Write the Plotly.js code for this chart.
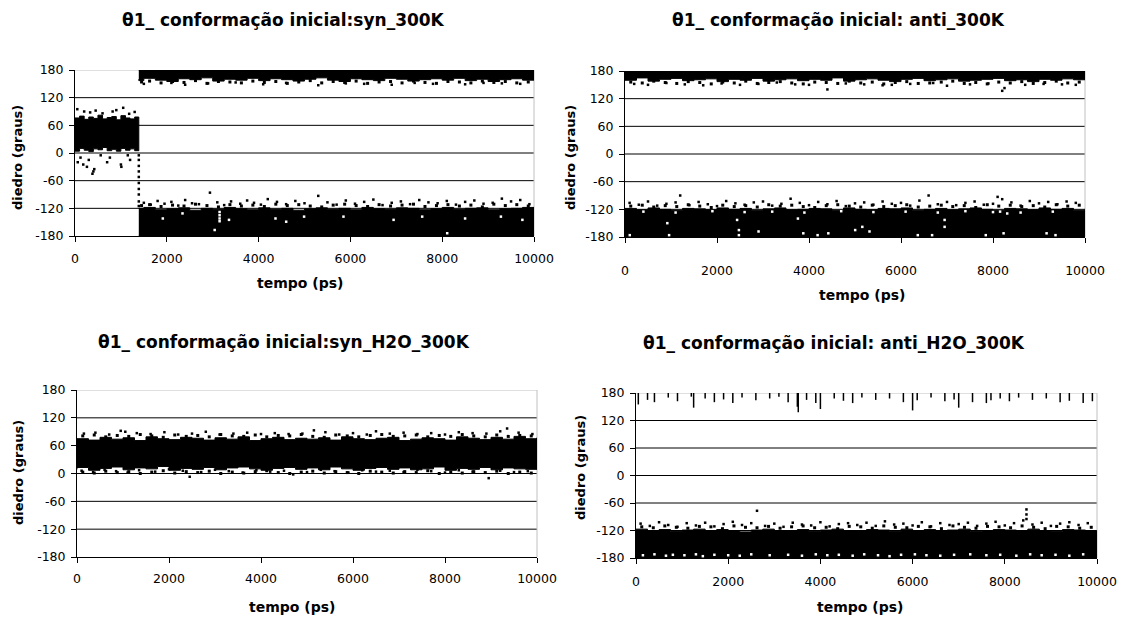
<!DOCTYPE html>
<html>
<head>
<meta charset="utf-8">
<script src="https://cdn.plot.ly/plotly-3.0.1.min.js"></script>
<style>html,body{margin:0;padding:0;background:#fff;}#chart{width:1123px;height:618px;}</style>
</head>
<body>
<div id="chart"></div>
<script>
// ---------------- data ----------------
const titles = [
  "θ1_ conformação inicial:syn_300K",
  "θ1_ conformação inicial: anti_300K",
  "θ1_ conformação inicial:syn_H2O_300K",
  "θ1_ conformação inicial: anti_H2O_300K"
];
const xTitle = "tempo (ps)";
const yTitle = "diedro (graus)";
const xTicks = [0, 2000, 4000, 6000, 8000, 10000];
const yTicks = [-180, -120, -60, 0, 60, 120, 180];
const Y_MIN = -180, Y_MAX = 180;

// shared sample times for fringe points (ps)
const fT = [125,375,625,875,1125,1375,1625,1875,2125,2375,2625,2875,3125,3375,3625,3875,4125,4375,4625,4875,5125,5375,5625,5875,6125,6375,6625,6875,7125,7375,7625,7875,8125,8375,8625,8875,9125,9375,9625,9875];

// Panel 1 : syn_300K
const p1EarlyT  = [0,100,200,300,400,500,600,700,800,900,1000,1100,1200,1300,1390];
const p1EarlyHi = [76,80,73,78,75,82,74,77,79,72,81,76,74,78,73];
const p1EarlyLo = [8,4,10,6,3,9,7,12,5,8,4,10,6,9,5];
const p1EarlyOutT = [50,60,120,180,200,260,300,330,380,400,420,450,560,600,700,760,820,900,1000,1010,1050,1150,1180,1200,1300];
const p1EarlyOutV = [95,-20,-10,-25,90,-30,-15,88,-45,-40,-35,92,-5,86,-20,-10,90,93,-25,-30,98,-5,85,-15,89];
const p1JumpT = [1390,1390,1390,1390,1390,1390,1390,1390,1390,1390];
const p1JumpV = [-5,-15,-28,-40,-52,-65,-78,-90,-105,-115];
const p1LateT = [1390,1500,1750,2000,2250,2500,2750,3000,3250,3500,3750,4000,4250,4500,4750,5000,5250,5500,5750,6000,6250,6500,6750,7000,7250,7500,7750,8000,8250,8500,8750,9000,9250,9500,9750,10000];
const p1UpLo  = [160,157,162,158,155,161,159,163,156,160,158,162,157,161,159,156,160,163,158,155,161,159,157,162,160,156,159,161,158,162,157,160,155,159,161,158];
const p1DnHi  = [-120,-118,-123,-121,-119,-124,-120,-122,-118,-121,-123,-119,-122,-120,-124,-121,-119,-122,-120,-123,-118,-121,-122,-119,-120,-123,-121,-118,-122,-120,-119,-123,-121,-120,-118,-122];
const p1FrT = [1450,1625,1875,2125,2375,2625,2875,3125,3375,3625,3875,4125,4375,4625,4875,5125,5375,5625,5875,6125,6375,6625,6875,7125,7375,7625,7875,8125,8375,8625,8875,9125,9375,9625,9875];
const p1UpFrV = [154,156,152,155,153,157,151,155,154,152,156,153,155,151,154,157,152,155,153,156,151,154,155,152,156,153,151,155,154,152,156,153,155,152,154];
const p1DnFrV = [-114,-112,-116,-113,-115,-111,-114,-117,-112,-115,-113,-116,-111,-114,-112,-115,-117,-113,-111,-114,-116,-112,-115,-113,-111,-116,-114,-112,-115,-113,-117,-111,-114,-112,-115];
const p1UpOutT = [1500,2100,2400,2900,3500,4100,4600,5300,5900,6300,6900,7400,7800,8500,8900,9300,9700];
const p1UpOutV = [150,152,148,151,153,149,152,147,151,150,148,152,150,149,152,151,150];
const p1DnOutT = [1500,1650,1800,1950,2100,2250,2400,2550,2700,2940,3100,3250,3400,3600,3750,3900,4050,4200,4400,4600,4800,5000,5300,5500,5700,5900,6100,6300,6500,6700,6900,7100,7300,7500,7700,7900,8100,8300,8500,8700,8900,9100,9300,9500,9700,9900];
const p1DnOutV = [-108,-112,-104,-110,-106,-114,-102,-109,-111,-86,-107,-113,-105,-110,-103,-108,-112,-100,-106,-111,-104,-109,-93,-107,-112,-103,-110,-106,-101,-113,-108,-105,-111,-102,-107,-109,-104,-112,-106,-103,-110,-108,-99,-105,-102,-111];
// gaps (white specks) inside the lower band
const p1GapT = [1913,2342,3043,3150,3150,3150,3150,3355,4368,4601,4991,5849,6941,7564,8109,8499,9279,9747];
const p1GapV = [-142,-131,-167,-128,-135,-142,-148,-145,-142,-149,-138,-138,-145,-138,-174,-142,-138,-145];

// Panel 2 : anti_300K
const p2T = [0,250,500,750,1000,1250,1500,1750,2000,2250,2500,2750,3000,3250,3500,3750,4000,4250,4500,4750,5000,5250,5500,5750,6000,6250,6500,6750,7000,7250,7500,7750,8000,8250,8500,8750,9000,9250,9500,9750,10000];
const p2UpLo = [163,160,165,158,162,164,159,161,163,157,162,160,164,158,161,163,159,162,160,165,158,161,163,160,157,162,164,159,161,163,158,160,162,164,159,161,157,162,160,163,161];
const p2DnHi = [-118,-121,-117,-120,-122,-118,-119,-121,-117,-120,-118,-122,-119,-117,-121,-120,-118,-119,-122,-117,-120,-121,-118,-119,-117,-122,-120,-118,-121,-119,-117,-120,-122,-118,-119,-121,-117,-120,-118,-122,-119];
const p2UpFrV = [156,154,158,155,153,157,155,152,156,154,158,153,155,157,154,152,156,155,153,158,154,156,152,155,157,153,154,156,158,153,155,152,156,154,157,153,155,158,154,156];
const p2DnFrV = [-113,-111,-115,-112,-114,-110,-113,-116,-111,-114,-112,-115,-110,-113,-111,-114,-116,-112,-110,-113,-115,-111,-114,-112,-110,-115,-113,-111,-114,-112,-116,-110,-113,-111,-114,-112,-115,-110,-113,-111];
const p2UpOutT = [200,500,900,1300,1700,2100,2500,2900,3300,3700,4000,4400,4800,5200,5600,5800,6200,6700,7000,7500,7900,8200,8250,8700,9100,9500,9800];
const p2UpOutV = [152,150,154,151,149,153,150,152,155,151,150,140,153,151,149,150,152,154,148,151,153,137,143,150,152,151,150];
const p2DnOutT = [100,300,500,700,900,1100,1200,1400,1600,1800,2000,2200,2400,2600,2800,3000,3200,3400,3600,3800,4000,4200,4400,4600,4800,5000,5200,5400,5600,5800,6000,6200,6400,6600,6800,7000,7200,7400,7600,7800,8000,8100,8200,8400,8600,8800,9000,9200,9400,9600,9800];
const p2DnOutV = [-106,-110,-103,-112,-108,-105,-90,-111,-104,-109,-113,-102,-107,-110,-105,-103,-112,-108,-97,-106,-111,-104,-109,-102,-113,-107,-105,-110,-103,-108,-106,-112,-101,-90,-109,-104,-111,-106,-103,-110,-108,-93,-98,-105,-112,-102,-107,-104,-109,-103,-106];
const p2GapT = [104,400,920,959,1100,1900,2437,2476,2476,2600,2903,3200,3759,3876,3900,4187,4420,4700,5004,5159,5315,5400,6100,6365,6676,6800,6948,6948,7400,7843,8000,8154,8230,8309,8600,9165,9300,9359];
const p2GapV = [-176,-125,-150,-176,-127,-124,-143,-165,-176,-126,-168,-125,-140,-172,-127,-176,-172,-124,-165,-158,-168,-126,-125,-176,-176,-127,-143,-158,-124,-176,-126,-125,-172,-129,-127,-172,-125,-176];

// Panel 3 : syn_H2O_300K
const p3T = [0,250,500,750,1000,1250,1500,1750,2000,2250,2500,2750,3000,3250,3500,3750,4000,4250,4500,4750,5000,5250,5500,5750,6000,6250,6500,6750,7000,7250,7500,7750,8000,8250,8500,8750,9000,9250,9500,9750,10000];
const p3Hi = [75,72,78,74,77,71,79,75,73,78,76,72,77,74,79,71,75,78,73,76,74,77,72,79,75,73,76,78,71,74,77,75,72,79,76,73,78,74,80,75,77];
const p3Lo = [9,13,7,11,14,8,12,10,15,7,11,9,13,8,12,14,10,7,11,13,9,12,8,14,10,7,11,13,9,12,8,10,14,7,11,9,13,8,12,10,9];
const p3UpFrV = [81,83,79,82,80,84,81,78,83,80,82,79,84,81,80,83,79,82,81,84,80,78,83,81,79,82,84,80,81,83,79,82,80,84,81,79,83,80,82,81];
const p3DnFrV = [3,1,5,2,4,0,3,6,1,4,2,5,0,3,1,4,6,2,0,3,5,1,4,2,0,5,3,1,4,2,6,0,3,1,4,2,5,0,3,1];
const p3UpOutT = [150,400,700,950,1050,1300,1600,1900,2200,2500,2800,3100,3400,3700,4000,4300,4600,4900,5150,5400,5700,6000,6300,6500,6800,7100,7400,7700,8000,8300,8600,8900,9200,9350,9600,9900];
const p3UpOutV = [86,88,84,92,90,87,85,89,84,86,90,84,86,88,85,87,85,86,93,89,84,87,84,91,86,88,85,87,84,89,87,86,91,97,88,85];
const p3DnOutT = [100,350,600,850,1100,1350,1700,2000,2300,2450,2700,3000,3300,3600,3900,4200,4500,4700,5000,5300,5600,5900,6200,6500,6800,7100,7400,7700,8000,8300,8600,8950,9200,9500,9800];
const p3DnOutV = [6,3,8,5,2,7,4,9,6,-7,3,8,5,2,7,4,6,-2,3,8,5,2,7,4,6,3,8,5,2,7,4,-10,6,3,5];

// Panel 4 : anti_H2O_300K
const p4T = [0,250,500,750,1000,1250,1500,1750,2000,2250,2500,2750,3000,3250,3500,3750,4000,4250,4500,4750,5000,5250,5500,5750,6000,6250,6500,6750,7000,7250,7500,7750,8000,8250,8500,8750,9000,9250,9500,9750,10000];
const p4SpikeT = [50,250,400,700,900,1200,1250,1500,1700,1900,2100,2300,2600,2900,3100,3300,3500,3520,3700,3900,4000,4300,4500,4700,4900,5200,5500,5800,6000,6100,6400,6700,6900,7000,7300,7600,7700,7900,8100,8300,8600,8900,9200,9400,9700,9900];
const p4SpikeLo = [155,165,160,170,162,172,148,168,160,166,158,170,164,168,172,160,150,138,165,158,145,168,163,158,170,165,168,160,142,164,170,162,166,148,160,158,164,168,162,170,165,168,160,163,158,162];
const p4DnHi = [-117,-120,-118,-122,-119,-117,-121,-118,-120,-123,-119,-117,-121,-120,-118,-122,-119,-117,-120,-121,-118,-119,-122,-117,-120,-118,-121,-119,-117,-122,-120,-118,-119,-121,-117,-120,-122,-118,-119,-121,-120];
const p4DnFrV = [-112,-114,-110,-113,-115,-111,-112,-116,-110,-113,-114,-111,-115,-112,-110,-114,-113,-116,-111,-112,-115,-110,-113,-114,-111,-112,-116,-110,-113,-115,-111,-112,-114,-110,-113,-116,-111,-112,-115,-113];
const p4DnOutT = [100,300,500,700,900,1100,1300,1500,1700,1900,2100,2300,2500,2625,2800,3000,3200,3400,3600,3800,4000,4200,4400,4600,4800,5000,5200,5400,5600,5800,6000,6200,6400,6600,6800,7000,7200,7400,7600,7800,8000,8200,8400,8470,8470,8470,8600,8800,9000,9200,9400,9600,9800];
const p4DnOutV = [-105,-110,-102,-108,-112,-104,-109,-103,-111,-106,-101,-108,-104,-77,-110,-105,-112,-103,-107,-109,-102,-111,-106,-104,-108,-103,-110,-100,-107,-105,-109,-102,-111,-104,-108,-106,-103,-110,-105,-101,-109,-104,-98,-74,-85,-95,-107,-103,-110,-105,-102,-108,-104];
const p4GapT = [150,400,650,800,1050,1300,1450,1700,2000,2250,2500,2900,3300,3600,3900,4150,4400,4700,4950,5250,5500,5750,6050,6300,6600,6900,7250,7600,7900,8250,8550,8800,9100,9400,9700];
const p4GapV = [-174,-172,-175,-173,-174,-172,-176,-173,-174,-175,-172,-174,-173,-175,-172,-174,-173,-175,-172,-174,-176,-173,-172,-174,-175,-173,-172,-174,-173,-175,-172,-174,-173,-175,-172];

// ---------------- drawing ----------------
const FONT = "DejaVu Sans, Arial, sans-serif";
const traces = [];
function poly(ax, t, lo, hi) {
  traces.push({
    type: "scatter", mode: "lines", xaxis: "x" + ax, yaxis: "y" + ax,
    x: t.concat(t.slice().reverse()), y: hi.concat(lo.slice().reverse()),
    fill: "toself", fillcolor: "#000", line: {color: "#000", width: 1, shape: "hv"},
    hoverinfo: "skip", showlegend: false
  });
}
function dots(ax, t, v, color, size) {
  traces.push({
    type: "scatter", mode: "markers", xaxis: "x" + ax, yaxis: "y" + ax,
    x: t, y: v, marker: {symbol: "square", size: size || 2.5, color: color || "#000"},
    hoverinfo: "skip", showlegend: false
  });
}
const atTop = t => t.map(() => Y_MAX);
const atBottom = t => t.map(() => Y_MIN);

// panel 1
poly(1, p1EarlyT, p1EarlyLo, p1EarlyHi);
dots(1, p1EarlyOutT, p1EarlyOutV);
dots(1, p1JumpT, p1JumpV);
poly(1, p1LateT, p1UpLo, atTop(p1LateT));
poly(1, p1LateT, atBottom(p1LateT), p1DnHi);
dots(1, p1GapT, p1GapV, "#fff", 2.5);
dots(1, p1FrT, p1UpFrV, "#000", 3);
dots(1, p1FrT, p1DnFrV, "#000", 3);
dots(1, p1UpOutT, p1UpOutV);
dots(1, p1DnOutT, p1DnOutV);
// panel 2
poly(2, p2T, p2UpLo, atTop(p2T));
poly(2, p2T, atBottom(p2T), p2DnHi);
dots(2, p2GapT, p2GapV, "#fff", 2.5);
dots(2, fT, p2UpFrV, "#000", 3);
dots(2, fT, p2DnFrV, "#000", 3);
dots(2, p2UpOutT, p2UpOutV);
dots(2, p2DnOutT, p2DnOutV);
// panel 3
poly(3, p3T, p3Lo, p3Hi);
dots(3, fT, p3UpFrV, "#000", 3);
dots(3, fT, p3DnFrV, "#000", 3);
dots(3, p3UpOutT, p3UpOutV);
dots(3, p3DnOutT, p3DnOutV);
// panel 4
(function () {
  const sx = [], sy = [];
  p4SpikeT.forEach((t, i) => { sx.push(t, t, null); sy.push(Y_MAX, p4SpikeLo[i], null); });
  traces.push({type: "scatter", mode: "lines", xaxis: "x4", yaxis: "y4", x: sx, y: sy,
    line: {color: "#000", width: 1.5}, hoverinfo: "skip", showlegend: false});
})();
poly(4, p4T, atBottom(p4T), p4DnHi);
dots(4, fT, p4DnFrV, "#000", 3);
dots(4, p4DnOutT, p4DnOutV);
dots(4, p4GapT, p4GapV, "#fff");

// layout
const W = 1123, H = 618;
const boxes = [ // plot-area pixel boxes [x0,x1,yTop,yBottom]
  [75, 534, 70, 236],
  [625, 1085, 71, 237],
  [77, 537, 390, 557],
  [636, 1097, 393, 558]
];
const xStand = [6, 17, 5, 7];
const layout = {
  width: W, height: H, margin: {l: 0, r: 0, t: 0, b: 0},
  paper_bgcolor: "#fff", plot_bgcolor: "#fff", showlegend: false,
  font: {family: FONT, color: "#000"},
  annotations: [], shapes: []
};
boxes.forEach((b, i) => {
  const n = i + 1;
  layout["xaxis" + n] = {
    domain: [b[0] / W, b[1] / W], anchor: "y" + n, range: [0, 10000],
    tickmode: "array", tickvals: xTicks, ticktext: xTicks.map(String),
    showline: true, linecolor: "#000", linewidth: 1, ticks: "outside", ticklen: 5, tickcolor: "#000",
    showgrid: false, zeroline: false, tickfont: {family: FONT, size: 12.5, color: "#000"},
    ticklabelstandoff: xStand[i], fixedrange: true
  };
  layout["yaxis" + n] = {
    domain: [1 - b[3] / H, 1 - b[2] / H], anchor: "x" + n, range: [Y_MIN, Y_MAX],
    tickmode: "array", tickvals: yTicks, ticktext: yTicks.map(String),
    showline: true, linecolor: "#000", linewidth: 1, ticks: "outside", ticklen: 5, tickcolor: "#000",
    showgrid: false, zeroline: false,
    tickfont: {family: FONT, size: 12.5, color: "#000"}, ticklabelstandoff: 3, fixedrange: true
  };
  // horizontal gridlines (black) under the data, top border grey
  yTicks.forEach(v => {
    if (v === Y_MIN) return;
    layout.shapes.push({type: "line", layer: "below", xref: "x" + n + " domain", yref: "y" + n,
      x0: 0, x1: 1, y0: v, y1: v, line: {color: v === Y_MAX ? "#c0c0c0" : "#000", width: 1}});
  });
  layout.shapes.push({type: "line", layer: "below", xref: "x" + n + " domain", yref: "y" + n + " domain",
    x0: 1, x1: 1, y0: 0, y1: 1, line: {color: "#c0c0c0", width: 1}});
});
const titlePos = [[283, 20], [838, 20], [284, 342], [834, 343]];
const xTitlePos = [[300, 283], [862, 295], [292, 607], [860, 607]];
const yTitlePos = [[18, 158], [571, 158], [18, 473], [580, 468]];
titles.forEach((t, i) => {
  layout.annotations.push({text: "<b>" + t + "</b>", xref: "paper", yref: "paper",
    x: titlePos[i][0] / W, y: 1 - titlePos[i][1] / H, xanchor: "center", yanchor: "middle",
    showarrow: false, font: {family: FONT, size: 17, color: "#000"}});
  layout.annotations.push({text: "<b>" + xTitle + "</b>", xref: "paper", yref: "paper",
    x: xTitlePos[i][0] / W, y: 1 - xTitlePos[i][1] / H, xanchor: "center", yanchor: "middle",
    showarrow: false, font: {family: FONT, size: 14, color: "#000"}});
  layout.annotations.push({text: "<b>" + yTitle + "</b>", xref: "paper", yref: "paper",
    x: yTitlePos[i][0] / W, y: 1 - yTitlePos[i][1] / H, xanchor: "center", yanchor: "middle",
    textangle: -90, showarrow: false, font: {family: FONT, size: 13, color: "#000"}});
});

Plotly.newPlot("chart", traces, layout, {staticPlot: true, displayModeBar: false});
</script>
</body>
</html>
